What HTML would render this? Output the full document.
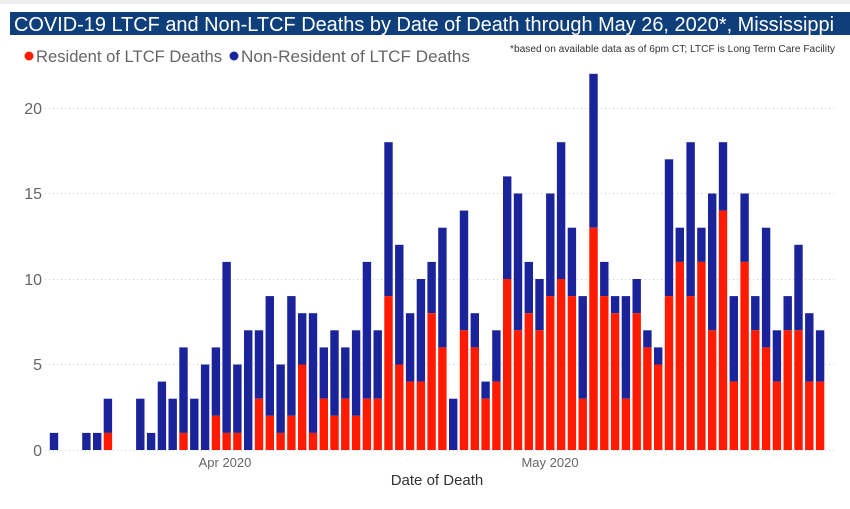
<!DOCTYPE html>
<html><head><meta charset="utf-8"><style>
body{margin:0;background:#fff;width:850px;height:504px;overflow:hidden;font-family:"Liberation Sans",sans-serif}
</style></head><body>
<svg width="850" height="504" xmlns="http://www.w3.org/2000/svg" id="s">
<rect x="0" y="0" width="850" height="4" fill="#eeeeee"/>
<rect x="10" y="12" width="840" height="23" fill="#0f3f7a"/>
<text x="14" y="31" fill="#fff" font-size="20" textLength="820" lengthAdjust="spacingAndGlyphs">COVID-19 LTCF and Non-LTCF Deaths by Date of Death through May 26, 2020*, Mississippi</text>
<circle cx="29" cy="56" r="4.5" fill="#ff1a00"/>
<text x="36" y="62" fill="#666" font-size="17" textLength="186" lengthAdjust="spacingAndGlyphs">Resident of LTCF Deaths</text>
<circle cx="234" cy="56" r="4.5" fill="#1a239a"/>
<text x="241" y="62" fill="#666" font-size="17" textLength="229" lengthAdjust="spacingAndGlyphs">Non-Resident of LTCF Deaths</text>
<text x="510" y="52" fill="#333" font-size="10" textLength="325" lengthAdjust="spacingAndGlyphs">*based on available data as of 6pm CT; LTCF is Long Term Care Facility</text>
<g stroke="#cfcfcf" stroke-dasharray="1,3" stroke-width="1">
<line x1="45" x2="835" y1="364.5" y2="364.5"/>
<line x1="45" x2="835" y1="279.5" y2="279.5"/>
<line x1="45" x2="835" y1="193.5" y2="193.5"/>
<line x1="45" x2="835" y1="108.5" y2="108.5"/>
<line x1="45" x2="835" y1="450.5" y2="450.5"/>
</g>
<g fill="#666" font-size="16" text-anchor="end">
<text x="42" y="456">0</text><text x="42" y="370">5</text><text x="42" y="285">10</text><text x="42" y="199">15</text><text x="42" y="114">20</text>
</g>
<g fill="#666" font-size="13" text-anchor="middle">
<text x="225" y="467">Apr 2020</text><text x="550" y="467">May 2020</text>
</g>
<text x="437" y="485" fill="#333" font-size="15" text-anchor="middle">Date of Death</text>
<g id="bars"></g>
</svg>
<script>
var d=[[0,1],[0,0],[0,0],[0,1],[0,1],[1,3],[0,0],[0,0],[0,3],[0,1],[0,4],[0,3],[1,6],[0,3],[0,5],[2,6],[1,11],[1,5],[0,7],[3,7],[2,9],[1,5],[2,9],[5,8],[1,8],[3,6],[2,7],[3,6],[2,7],[3,11],[3,7],[9,18],[5,12],[4,8],[4,10],[8,11],[6,13],[0,3],[7,14],[6,8],[3,4],[4,7],[10,16],[7,15],[8,11],[7,10],[9,15],[10,18],[9,13],[3,9],[13,22],[9,11],[8,9],[3,9],[8,10],[6,7],[5,6],[9,17],[11,13],[9,18],[11,13],[7,15],[14,18],[4,9],[11,15],[7,9],[6,13],[4,7],[7,9],[7,12],[4,8],[4,7]];
var g=document.getElementById('bars'),h='',k=17.1;
d.forEach(function(v,i){var cx=54+i*10.79,x=(cx-4.2).toFixed(1);
if(v[1]>v[0])h+='<rect x="'+x+'" y="'+(450-v[1]*k).toFixed(1)+'" width="8.4" height="'+((v[1]-v[0])*k).toFixed(1)+'" fill="#1a239a"/>';
if(v[0]>0)h+='<rect x="'+x+'" y="'+(450-v[0]*k).toFixed(1)+'" width="8.4" height="'+(v[0]*k).toFixed(1)+'" fill="#ff1a00"/>';});
g.innerHTML=h;
</script>
</body></html>
